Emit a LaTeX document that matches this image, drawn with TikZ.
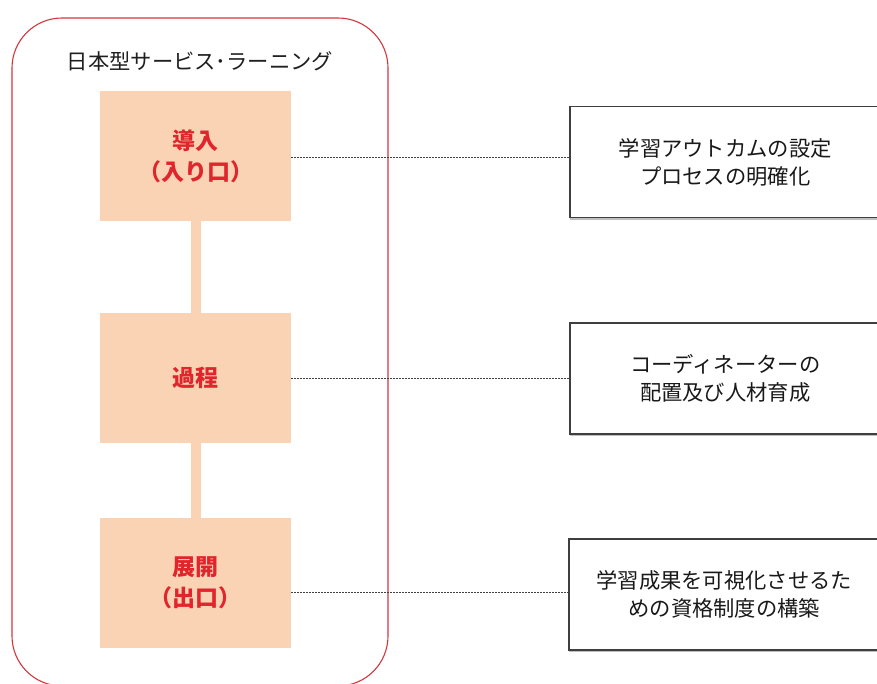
\documentclass[tikz,border=0pt]{standalone}
\usepackage{fontspec}
\setmainfont{Noto Sans CJK JP}
\definecolor{peach}{HTML}{F9D3B4}
\definecolor{redtxt}{HTML}{E0262C}
\definecolor{redline}{HTML}{D2373C}
\definecolor{boxline}{HTML}{3F3F3F}
\begin{document}
\begin{tikzpicture}[x=1pt,y=-1pt,
  stage/.style={fill=peach, draw=none, minimum width=191pt, minimum height=130pt, inner sep=0pt,
    text=redtxt, font=\fontsize{23}{31}\selectfont\bfseries, align=center},
  note/.style={draw=boxline, line width=1.5pt, fill=white, minimum width=311pt, minimum height=111pt,
    inner sep=0pt, anchor=north west, text=black!90, font=\fontsize{21.3}{27.5}\selectfont, align=center,
    text width=300pt, drop shadow},
  drop shadow/.style={preaction={draw=black!25, line width=1.5pt, transform canvas={shift={(1pt,-1.5pt)}}}},
  bar/.style={fill=peach, draw=none},
  link/.style={draw=black!75, line width=0.9pt, dash pattern=on 2pt off 1pt}]
\useasboundingbox (0,0) rectangle (877,684);
\fill[white] (0,0) rectangle (877,684);
% outer rounded frame
\draw[redline, line width=1.1pt, rounded corners=50pt] (12,18) rectangle (388,686);
\node[font=\fontsize{21.3}{24}\selectfont, text=black!88] (title) at (200,61) {日本型サービス･ラーニング};
% stages
\node[stage] (s1) at (195.5,156) {導入\\（入り口）};
\node[stage] (s2) at (195.5,378) {過程};
\node[stage] (s3) at (195.5,583) {展開\\（出口）};
\fill[bar] ([xshift=-5pt]s1.south) rectangle ([xshift=5pt]s2.north);
\fill[bar] ([xshift=-5pt]s2.south) rectangle ([xshift=5pt]s3.north);
% notes
\node[note] (n1) at (569,106) {学習アウトカムの設定\\プロセスの明確化};
\node[note] (n2) at (569,322) {コーディネーターの\\配置及び人材育成};
\node[note] (n3) at (568,538) {学習成果を可視化させるた\\めの資格制度の構築};
% links
\coordinate (l1) at (291,157);
\coordinate (l2) at (291,378);
\coordinate (l3) at (291,592);
\draw[link] (l1) -- (l1 -| n1.west);
\draw[link] (l2) -- (l2 -| n2.west);
\draw[link] (l3) -- (l3 -| n3.west);
\end{tikzpicture}
\end{document}
